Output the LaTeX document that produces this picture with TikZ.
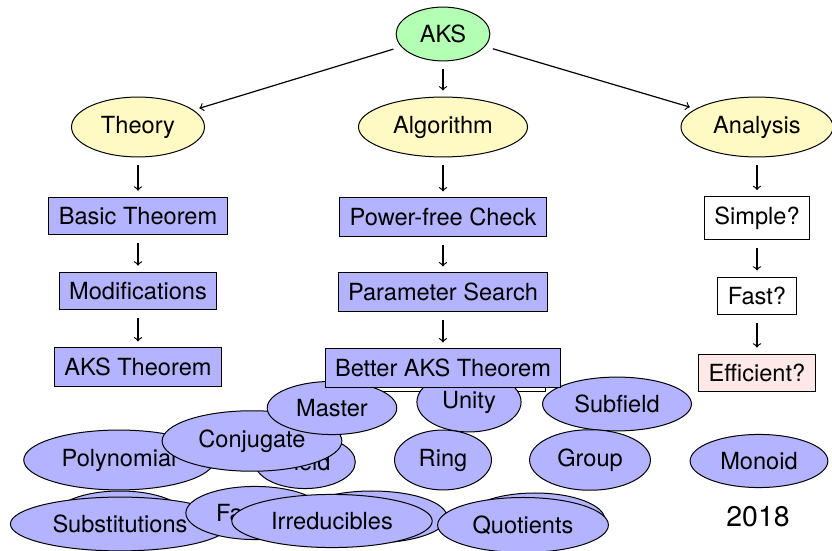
\documentclass[tikz,border=0pt]{standalone}
\usepackage{fontspec}
\setmainfont{TeX Gyre Heros}
\usetikzlibrary{shapes.geometric}
\definecolor{nodeblue}{RGB}{179,179,255}
\definecolor{nodeyellow}{RGB}{255,250,196}
\definecolor{nodegreen}{RGB}{179,255,179}
\definecolor{nodepink}{RGB}{255,232,232}

\begin{document}
\begin{tikzpicture}
			[
				x = 0.5pt, y = -0.5pt,
				every node/.style = {font = \fontsize{11.8}{14}\selectfont, inner sep = 5pt, line width = 0.5pt},
				root/.style = {ellipse, draw = black, fill = nodegreen},
				branch/.style = {ellipse, draw = black, fill = nodeyellow},
				stepbox/.style = {rectangle, draw = black, fill = nodeblue},
				askbox/.style = {rectangle, draw = black, fill = white},
				goalbox/.style = {rectangle, draw = black, fill = nodepink},
				topic/.style = {ellipse, draw = black, fill = nodeblue},
				arr/.style = {->, line width = 0.6pt, shorten <= 4pt, shorten >= 3pt},
			]
			\useasboundingbox (0,0) rectangle (832,551);
			\node (aks) [root] at (443,34) {AKS};
			\node (theory) [branch] at (138,127) {Theory};
			\node (algorithm) [branch] at (443,127) {Algorithm};
			\node (analysis) [branch] at (757,127) {Analysis};
			\node (basic) [stepbox] at (138,216) {Basic Theorem};
			\node (modif) [stepbox] at (138,291) {Modifications};
			\node (akstheorem) [stepbox] at (138,367) {AKS Theorem};
			\node (powerfree) [stepbox] at (443,217) {Power-free Check};
			\node (search) [stepbox] at (443,292) {Parameter Search};
			\node (simple) [askbox] at (757,218) {Simple?};
			\node (fast) [askbox] at (757,296) {Fast?};
			\node (efficient) [goalbox] at (757,373) {Efficient?};
			\node (shadow) [askbox, minimum width = 102pt, minimum height = 20pt] at (443,372) {};
			\node (field) [topic] at (305,462) {Field};
			\node (polynomial) [topic] at (119,460) {Polynomial};
			\node (conjugate) [topic] at (252,441) {Conjugate};
			\node (master) [topic] at (332,408) {Master};
			\node (unity) [topic] at (469,402) {Unity};
			\node (subfield) [topic] at (617,404) {Subfield};
			\node (ring) [topic] at (443,460) {Ring};
			\node (group) [topic] at (590,460) {Group};
			\node (monoid) [topic] at (759,461) {Monoid};
			\node (better) [stepbox] at (443,368) {Better AKS Theorem};
			\node (hiddenA) [topic, minimum width = 65pt, minimum height = 25pt] at (120,516) {};
			\node (substitutions) [topic] at (120,524) {Substitutions};
			\node (factors) [topic] at (255,513) {Factors};
			\node (hiddenB) [topic, minimum width = 75pt, minimum height = 26pt] at (372,517) {};
			\node (irreducibles) [topic] at (332,521) {Irreducibles};
			\node (hiddenC) [topic, minimum width = 70pt, minimum height = 27pt] at (535,520) {};
			\node (quotients) [topic] at (523,525) {Quotients};
			\node (year) [font = \fontsize{14.2}{17}\selectfont] at (758,517) {2018};
			\foreach \from/\to in {aks/theory, aks/algorithm, aks/analysis,
				theory/basic, basic/modif, modif/akstheorem,
				algorithm/powerfree, powerfree/search, search/better,
				analysis/simple, simple/fast, fast/efficient}
				\draw [arr] (\from) -- (\to);
		\end{tikzpicture}
\end{document}
